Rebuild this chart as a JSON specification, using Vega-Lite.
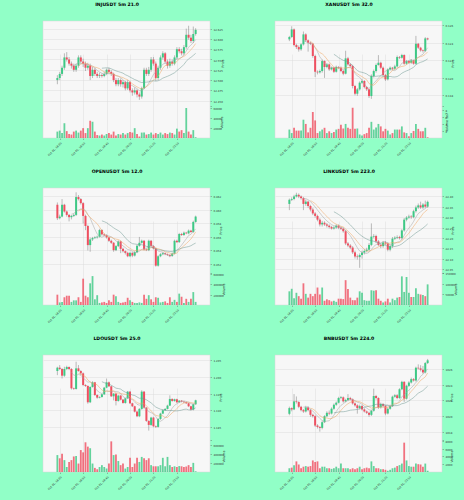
{
"$schema": "https://vega.github.io/schema/vega-lite/v6.json",
"background": "#91ffc7",
"padding": {"left": 42, "top": 1, "right": 8, "bottom": 13},
"bounds": "flush",
"columns": 2,
"spacing": {"row": 50, "column": 65},
"config": {
 "view": {"fill": "#f7f7f7", "stroke": "#d6d6d6", "strokeWidth": 0.5},
 "axis": {"labelFont": "DejaVu Sans", "labelFontSize": 2.7, "labelColor": "#333333", "titleFont": "DejaVu Sans", "titleFontSize": 3.2, "titleFontWeight": "normal", "titleColor": "#222222", "tickSize": 1.5, "tickWidth": 0.4, "tickColor": "#555555", "domain": false, "gridColor": "#dcdcdc", "gridWidth": 0.5, "labelPadding": 1.5, "titlePadding": 2, "labelFlush": false},
 "axisRight": {"titleAngle": 270},
 "title": {"font": "DejaVu Sans", "fontSize": 4.6, "fontWeight": "bold", "color": "#000000", "offset": 14.5, "dx": -9.5, "anchor": "middle"}
},
"concat": [
 {"title": "INJUSDT 5m 21.0", "data": {"name": "inj"}, "width": 167, "height": 117,
  "encoding": {"x": {"field": "i", "type": "quantitative", "scale": {"domain": [-4, 63], "nice": false, "zero": false}, "axis": {"values": [1, 11, 21, 31, 41, 51], "tickCount": 20, "labelExpr": "['Oct 01, 18:05','Oct 01, 18:55','Oct 01, 19:45','Oct 01, 20:35','Oct 01, 21:25','Oct 01, 22:15'][round((datum.value-1)/10)]", "labelAngle": 315, "labelAlign": "right", "labelBaseline": "top", "labelOverlap": false, "title": null}}},
  "layer": [
   {"layer": [
    {"mark": {"type": "rule", "color": "#7a7a7a", "strokeWidth": 0.5}, "encoding": {"y": {"field": "l", "type": "quantitative", "scale": {"domain": [12.4395, 12.6435], "range": [84, 0], "nice": false, "zero": false}, "axis": {"orient": "right", "values": [12.45, 12.475, 12.5, 12.525, 12.55, 12.575, 12.6, 12.625], "tickCount": 20, "format": ".3f", "labelOverlap": false, "title": "Price"}}, "y2": {"field": "h"}}},
    {"mark": {"type": "bar", "size": 2}, "encoding": {"y": {"field": "o", "type": "quantitative"}, "y2": {"field": "c"}, "color": {"condition": {"test": "datum.c >= datum.o", "value": "#3dc985"}, "value": "#ef4f60"}}},
    {"transform": [{"window": [{"op": "mean", "field": "c", "as": "ma"}, {"op": "count", "as": "n"}], "frame": [-6, 0], "sort": [{"field": "i"}]}, {"filter": "datum.n >= 7"}], "mark": {"type": "line", "color": "#a3a3a3", "strokeWidth": 0.5}, "encoding": {"y": {"field": "ma", "type": "quantitative"}}},
    {"transform": [{"window": [{"op": "mean", "field": "c", "as": "ma"}, {"op": "count", "as": "n"}], "frame": [-9, 0], "sort": [{"field": "i"}]}, {"filter": "datum.n >= 10"}], "mark": {"type": "line", "color": "#eea35d", "strokeWidth": 0.5}, "encoding": {"y": {"field": "ma", "type": "quantitative"}}},
    {"transform": [{"window": [{"op": "mean", "field": "c", "as": "ma"}, {"op": "count", "as": "n"}], "frame": [-19, 0], "sort": [{"field": "i"}]}, {"filter": "datum.n >= 20"}], "mark": {"type": "line", "color": "#6d9790", "strokeWidth": 0.5}, "encoding": {"y": {"field": "ma", "type": "quantitative"}}}
   ]},
   {"mark": {"type": "bar", "size": 1.8, "opacity": 0.8}, "encoding": {"y": {"field": "v", "type": "quantitative", "scale": {"domain": [0, 65000], "range": [117, 85], "nice": false}, "axis": {"orient": "right", "values": [20000, 40000, 60000, 65000], "tickCount": 20, "labelExpr": "datum.value == 65000 ? '' : format(datum.value, 'd')", "labelOverlap": false, "title": "Volume"}}, "color": {"condition": {"test": "datum.c >= datum.o", "value": "#3dc985"}, "value": "#ef4f60"}}}
  ],
  "resolve": {"scale": {"y": "independent"}, "axis": {"y": "independent"}}
 },
 {"title": "XANUSDT 5m 32.0", "data": {"name": "xan"}, "width": 167, "height": 117,
  "encoding": {"x": {"field": "i", "type": "quantitative", "scale": {"domain": [-4, 63], "nice": false, "zero": false}, "axis": {"values": [1, 11, 21, 31, 41, 51], "tickCount": 20, "labelExpr": "['Oct 01, 18:05','Oct 01, 18:55','Oct 01, 19:45','Oct 01, 20:35','Oct 01, 21:25','Oct 01, 22:15'][round((datum.value-1)/10)]", "labelAngle": 315, "labelAlign": "right", "labelBaseline": "top", "labelOverlap": false, "title": null}}},
  "layer": [
   {"layer": [
    {"mark": {"type": "rule", "color": "#7a7a7a", "strokeWidth": 0.5}, "encoding": {"y": {"field": "l", "type": "quantitative", "scale": {"domain": [0.1169, 0.1265], "range": [84, 0], "nice": false, "zero": false}, "axis": {"orient": "right", "values": [0.118, 0.12, 0.122, 0.124, 0.126], "tickCount": 20, "format": ".3f", "labelOverlap": false, "title": "Price"}}, "y2": {"field": "h"}}},
    {"mark": {"type": "bar", "size": 2}, "encoding": {"y": {"field": "o", "type": "quantitative"}, "y2": {"field": "c"}, "color": {"condition": {"test": "datum.c >= datum.o", "value": "#3dc985"}, "value": "#ef4f60"}}},
    {"transform": [{"window": [{"op": "mean", "field": "c", "as": "ma"}, {"op": "count", "as": "n"}], "frame": [-6, 0], "sort": [{"field": "i"}]}, {"filter": "datum.n >= 7"}], "mark": {"type": "line", "color": "#a3a3a3", "strokeWidth": 0.5}, "encoding": {"y": {"field": "ma", "type": "quantitative"}}},
    {"transform": [{"window": [{"op": "mean", "field": "c", "as": "ma"}, {"op": "count", "as": "n"}], "frame": [-9, 0], "sort": [{"field": "i"}]}, {"filter": "datum.n >= 10"}], "mark": {"type": "line", "color": "#eea35d", "strokeWidth": 0.5}, "encoding": {"y": {"field": "ma", "type": "quantitative"}}},
    {"transform": [{"window": [{"op": "mean", "field": "c", "as": "ma"}, {"op": "count", "as": "n"}], "frame": [-19, 0], "sort": [{"field": "i"}]}, {"filter": "datum.n >= 20"}], "mark": {"type": "line", "color": "#6d9790", "strokeWidth": 0.5}, "encoding": {"y": {"field": "ma", "type": "quantitative"}}}
   ]},
   {"mark": {"type": "bar", "size": 1.8, "opacity": 0.8}, "encoding": {"y": {"field": "v", "type": "quantitative", "scale": {"domain": [0, 91000000], "range": [117, 85], "nice": false}, "axis": {"orient": "right", "values": [20000000, 40000000, 60000000, 80000000, 91000000], "tickCount": 20, "labelExpr": "datum.value == 91000000 ? '' : format(datum.value/1e7, 'd')", "labelOverlap": false, "title": "Volume  1e7"}}, "color": {"condition": {"test": "datum.c >= datum.o", "value": "#3dc985"}, "value": "#ef4f60"}}}
  ],
  "resolve": {"scale": {"y": "independent"}, "axis": {"y": "independent"}}
 },
 {"title": "OPENUSDT 5m 12.0", "data": {"name": "open"}, "width": 167, "height": 117,
  "encoding": {"x": {"field": "i", "type": "quantitative", "scale": {"domain": [-4, 63], "nice": false, "zero": false}, "axis": {"values": [1, 11, 21, 31, 41, 51], "tickCount": 20, "labelExpr": "['Oct 01, 18:05','Oct 01, 18:55','Oct 01, 19:45','Oct 01, 20:35','Oct 01, 21:25','Oct 01, 22:15'][round((datum.value-1)/10)]", "labelAngle": 315, "labelAlign": "right", "labelBaseline": "top", "labelOverlap": false, "title": null}}},
  "layer": [
   {"layer": [
    {"mark": {"type": "rule", "color": "#7a7a7a", "strokeWidth": 0.5}, "encoding": {"y": {"field": "l", "type": "quantitative", "scale": {"domain": [0.45081, 0.46324], "range": [84, 0], "nice": false, "zero": false}, "axis": {"orient": "right", "values": [0.452, 0.454, 0.456, 0.458, 0.46, 0.462], "tickCount": 20, "format": ".3f", "labelOverlap": false, "title": "Price"}}, "y2": {"field": "h"}}},
    {"mark": {"type": "bar", "size": 2}, "encoding": {"y": {"field": "o", "type": "quantitative"}, "y2": {"field": "c"}, "color": {"condition": {"test": "datum.c >= datum.o", "value": "#3dc985"}, "value": "#ef4f60"}}},
    {"transform": [{"window": [{"op": "mean", "field": "c", "as": "ma"}, {"op": "count", "as": "n"}], "frame": [-6, 0], "sort": [{"field": "i"}]}, {"filter": "datum.n >= 7"}], "mark": {"type": "line", "color": "#a3a3a3", "strokeWidth": 0.5}, "encoding": {"y": {"field": "ma", "type": "quantitative"}}},
    {"transform": [{"window": [{"op": "mean", "field": "c", "as": "ma"}, {"op": "count", "as": "n"}], "frame": [-9, 0], "sort": [{"field": "i"}]}, {"filter": "datum.n >= 10"}], "mark": {"type": "line", "color": "#eea35d", "strokeWidth": 0.5}, "encoding": {"y": {"field": "ma", "type": "quantitative"}}},
    {"transform": [{"window": [{"op": "mean", "field": "c", "as": "ma"}, {"op": "count", "as": "n"}], "frame": [-19, 0], "sort": [{"field": "i"}]}, {"filter": "datum.n >= 20"}], "mark": {"type": "line", "color": "#6d9790", "strokeWidth": 0.5}, "encoding": {"y": {"field": "ma", "type": "quantitative"}}}
   ]},
   {"mark": {"type": "bar", "size": 1.8, "opacity": 0.8}, "encoding": {"y": {"field": "v", "type": "quantitative", "scale": {"domain": [0, 620000], "range": [117, 85], "nice": false}, "axis": {"orient": "right", "values": [200000, 400000, 600000, 620000], "tickCount": 20, "labelExpr": "datum.value == 620000 ? '' : format(datum.value, 'd')", "labelOverlap": false, "title": "Volume"}}, "color": {"condition": {"test": "datum.c >= datum.o", "value": "#3dc985"}, "value": "#ef4f60"}}}
  ],
  "resolve": {"scale": {"y": "independent"}, "axis": {"y": "independent"}}
 },
 {"title": "LINKUSDT 5m 223.0", "data": {"name": "link"}, "width": 167, "height": 117,
  "encoding": {"x": {"field": "i", "type": "quantitative", "scale": {"domain": [-4, 63], "nice": false, "zero": false}, "axis": {"values": [1, 11, 21, 31, 41, 51], "tickCount": 20, "labelExpr": "['Oct 01, 18:05','Oct 01, 18:55','Oct 01, 19:45','Oct 01, 20:35','Oct 01, 21:25','Oct 01, 22:15'][round((datum.value-1)/10)]", "labelAngle": 315, "labelAlign": "right", "labelBaseline": "top", "labelOverlap": false, "title": null}}},
  "layer": [
   {"layer": [
    {"mark": {"type": "rule", "color": "#7a7a7a", "strokeWidth": 0.5}, "encoding": {"y": {"field": "l", "type": "quantitative", "scale": {"domain": [22.035, 22.441], "range": [84, 0], "nice": false, "zero": false}, "axis": {"orient": "right", "values": [22.05, 22.1, 22.15, 22.2, 22.25, 22.3, 22.35, 22.4], "tickCount": 20, "format": ".2f", "labelOverlap": false, "title": "Price"}}, "y2": {"field": "h"}}},
    {"mark": {"type": "bar", "size": 2}, "encoding": {"y": {"field": "o", "type": "quantitative"}, "y2": {"field": "c"}, "color": {"condition": {"test": "datum.c >= datum.o", "value": "#3dc985"}, "value": "#ef4f60"}}},
    {"transform": [{"window": [{"op": "mean", "field": "c", "as": "ma"}, {"op": "count", "as": "n"}], "frame": [-6, 0], "sort": [{"field": "i"}]}, {"filter": "datum.n >= 7"}], "mark": {"type": "line", "color": "#a3a3a3", "strokeWidth": 0.5}, "encoding": {"y": {"field": "ma", "type": "quantitative"}}},
    {"transform": [{"window": [{"op": "mean", "field": "c", "as": "ma"}, {"op": "count", "as": "n"}], "frame": [-9, 0], "sort": [{"field": "i"}]}, {"filter": "datum.n >= 10"}], "mark": {"type": "line", "color": "#eea35d", "strokeWidth": 0.5}, "encoding": {"y": {"field": "ma", "type": "quantitative"}}},
    {"transform": [{"window": [{"op": "mean", "field": "c", "as": "ma"}, {"op": "count", "as": "n"}], "frame": [-19, 0], "sort": [{"field": "i"}]}, {"filter": "datum.n >= 20"}], "mark": {"type": "line", "color": "#6d9790", "strokeWidth": 0.5}, "encoding": {"y": {"field": "ma", "type": "quantitative"}}}
   ]},
   {"mark": {"type": "bar", "size": 1.8, "opacity": 0.8}, "encoding": {"y": {"field": "v", "type": "quantitative", "scale": {"domain": [0, 152000], "range": [117, 85], "nice": false}, "axis": {"orient": "right", "values": [50000, 100000, 150000, 152000], "tickCount": 20, "labelExpr": "datum.value == 152000 ? '' : format(datum.value, 'd')", "labelOverlap": false, "title": "Volume"}}, "color": {"condition": {"test": "datum.c >= datum.o", "value": "#3dc985"}, "value": "#ef4f60"}}}
  ],
  "resolve": {"scale": {"y": "independent"}, "axis": {"y": "independent"}}
 },
 {"title": "LDOUSDT 5m 25.0", "data": {"name": "ldo"}, "width": 167, "height": 117,
  "encoding": {"x": {"field": "i", "type": "quantitative", "scale": {"domain": [-4, 63], "nice": false, "zero": false}, "axis": {"values": [1, 11, 21, 31, 41, 51], "tickCount": 20, "labelExpr": "['Oct 01, 18:05','Oct 01, 18:55','Oct 01, 19:45','Oct 01, 20:35','Oct 01, 21:25','Oct 01, 22:15'][round((datum.value-1)/10)]", "labelAngle": 315, "labelAlign": "right", "labelBaseline": "top", "labelOverlap": false, "title": null}}},
  "layer": [
   {"layer": [
    {"mark": {"type": "rule", "color": "#7a7a7a", "strokeWidth": 0.5}, "encoding": {"y": {"field": "l", "type": "quantitative", "scale": {"domain": [1.1815, 1.2065], "range": [84, 0], "nice": false, "zero": false}, "axis": {"orient": "right", "values": [1.185, 1.19, 1.195, 1.2, 1.205], "tickCount": 20, "format": ".3f", "labelOverlap": false, "title": "Price"}}, "y2": {"field": "h"}}},
    {"mark": {"type": "bar", "size": 2}, "encoding": {"y": {"field": "o", "type": "quantitative"}, "y2": {"field": "c"}, "color": {"condition": {"test": "datum.c >= datum.o", "value": "#3dc985"}, "value": "#ef4f60"}}},
    {"transform": [{"window": [{"op": "mean", "field": "c", "as": "ma"}, {"op": "count", "as": "n"}], "frame": [-6, 0], "sort": [{"field": "i"}]}, {"filter": "datum.n >= 7"}], "mark": {"type": "line", "color": "#a3a3a3", "strokeWidth": 0.5}, "encoding": {"y": {"field": "ma", "type": "quantitative"}}},
    {"transform": [{"window": [{"op": "mean", "field": "c", "as": "ma"}, {"op": "count", "as": "n"}], "frame": [-9, 0], "sort": [{"field": "i"}]}, {"filter": "datum.n >= 10"}], "mark": {"type": "line", "color": "#eea35d", "strokeWidth": 0.5}, "encoding": {"y": {"field": "ma", "type": "quantitative"}}},
    {"transform": [{"window": [{"op": "mean", "field": "c", "as": "ma"}, {"op": "count", "as": "n"}], "frame": [-19, 0], "sort": [{"field": "i"}]}, {"filter": "datum.n >= 20"}], "mark": {"type": "line", "color": "#6d9790", "strokeWidth": 0.5}, "encoding": {"y": {"field": "ma", "type": "quantitative"}}}
   ]},
   {"mark": {"type": "bar", "size": 1.8, "opacity": 0.8}, "encoding": {"y": {"field": "v", "type": "quantitative", "scale": {"domain": [0, 700000], "range": [117, 85], "nice": false}, "axis": {"orient": "right", "values": [200000, 400000, 600000, 700000], "tickCount": 20, "labelExpr": "datum.value == 700000 ? '' : format(datum.value, 'd')", "labelOverlap": false, "title": "Volume"}}, "color": {"condition": {"test": "datum.c >= datum.o", "value": "#3dc985"}, "value": "#ef4f60"}}}
  ],
  "resolve": {"scale": {"y": "independent"}, "axis": {"y": "independent"}}
 },
 {"title": "BNBUSDT 5m 224.0", "data": {"name": "bnb"}, "width": 167, "height": 117,
  "encoding": {"x": {"field": "i", "type": "quantitative", "scale": {"domain": [-4, 63], "nice": false, "zero": false}, "axis": {"values": [1, 11, 21, 31, 41, 51], "tickCount": 20, "labelExpr": "['Oct 01, 18:05','Oct 01, 18:55','Oct 01, 19:45','Oct 01, 20:35','Oct 01, 21:25','Oct 01, 22:15'][round((datum.value-1)/10)]", "labelAngle": 315, "labelAlign": "right", "labelBaseline": "top", "labelOverlap": false, "title": null}}},
  "layer": [
   {"layer": [
    {"mark": {"type": "rule", "color": "#7a7a7a", "strokeWidth": 0.5}, "encoding": {"y": {"field": "l", "type": "quantitative", "scale": {"domain": [1017.06, 1027.8], "range": [84, 0], "nice": false, "zero": false}, "axis": {"orient": "right", "values": [1018, 1020, 1022, 1024, 1026], "tickCount": 20, "format": "d", "labelOverlap": false, "title": "Price"}}, "y2": {"field": "h"}}},
    {"mark": {"type": "bar", "size": 2}, "encoding": {"y": {"field": "o", "type": "quantitative"}, "y2": {"field": "c"}, "color": {"condition": {"test": "datum.c >= datum.o", "value": "#3dc985"}, "value": "#ef4f60"}}},
    {"transform": [{"window": [{"op": "mean", "field": "c", "as": "ma"}, {"op": "count", "as": "n"}], "frame": [-6, 0], "sort": [{"field": "i"}]}, {"filter": "datum.n >= 7"}], "mark": {"type": "line", "color": "#a3a3a3", "strokeWidth": 0.5}, "encoding": {"y": {"field": "ma", "type": "quantitative"}}},
    {"transform": [{"window": [{"op": "mean", "field": "c", "as": "ma"}, {"op": "count", "as": "n"}], "frame": [-9, 0], "sort": [{"field": "i"}]}, {"filter": "datum.n >= 10"}], "mark": {"type": "line", "color": "#eea35d", "strokeWidth": 0.5}, "encoding": {"y": {"field": "ma", "type": "quantitative"}}},
    {"transform": [{"window": [{"op": "mean", "field": "c", "as": "ma"}, {"op": "count", "as": "n"}], "frame": [-19, 0], "sort": [{"field": "i"}]}, {"filter": "datum.n >= 20"}], "mark": {"type": "line", "color": "#6d9790", "strokeWidth": 0.5}, "encoding": {"y": {"field": "ma", "type": "quantitative"}}}
   ]},
   {"mark": {"type": "bar", "size": 1.8, "opacity": 0.8}, "encoding": {"y": {"field": "v", "type": "quantitative", "scale": {"domain": [0, 8200], "range": [117, 85], "nice": false}, "axis": {"orient": "right", "values": [2000, 4000, 6000, 8000, 8200], "tickCount": 20, "labelExpr": "datum.value == 8200 ? '' : format(datum.value, 'd')", "labelOverlap": false, "title": "Volume"}}, "color": {"condition": {"test": "datum.c >= datum.o", "value": "#3dc985"}, "value": "#ef4f60"}}}
  ],
  "resolve": {"scale": {"y": "independent"}, "axis": {"y": "independent"}}
 }
],
"datasets": {
"inj": [
{"i":0,"o":12.500,"h":12.512,"l":12.490,"c":12.505,"v":13000},
{"i":1,"o":12.505,"h":12.520,"l":12.500,"c":12.515,"v":15000},
{"i":2,"o":12.515,"h":12.535,"l":12.510,"c":12.530,"v":10000},
{"i":3,"o":12.530,"h":12.565,"l":12.525,"c":12.555,"v":30000},
{"i":4,"o":12.555,"h":12.568,"l":12.545,"c":12.550,"v":14000},
{"i":5,"o":12.550,"h":12.556,"l":12.535,"c":12.540,"v":8000},
{"i":6,"o":12.540,"h":12.545,"l":12.528,"c":12.535,"v":7000},
{"i":7,"o":12.535,"h":12.540,"l":12.520,"c":12.525,"v":13000},
{"i":8,"o":12.525,"h":12.540,"l":12.520,"c":12.535,"v":15000},
{"i":9,"o":12.535,"h":12.560,"l":12.530,"c":12.555,"v":11000},
{"i":10,"o":12.555,"h":12.560,"l":12.540,"c":12.545,"v":15000},
{"i":11,"o":12.545,"h":12.552,"l":12.532,"c":12.540,"v":20000},
{"i":12,"o":12.540,"h":12.545,"l":12.522,"c":12.530,"v":10000},
{"i":13,"o":12.530,"h":12.542,"l":12.525,"c":12.535,"v":20000},
{"i":14,"o":12.535,"h":12.540,"l":12.500,"c":12.510,"v":35000},
{"i":15,"o":12.510,"h":12.532,"l":12.505,"c":12.525,"v":33000},
{"i":16,"o":12.525,"h":12.530,"l":12.510,"c":12.515,"v":13000},
{"i":17,"o":12.515,"h":12.520,"l":12.505,"c":12.510,"v":6000},
{"i":18,"o":12.510,"h":12.518,"l":12.505,"c":12.512,"v":5000},
{"i":19,"o":12.512,"h":12.516,"l":12.506,"c":12.510,"v":7000},
{"i":20,"o":12.510,"h":12.520,"l":12.507,"c":12.515,"v":5000},
{"i":21,"o":12.515,"h":12.528,"l":12.512,"c":12.525,"v":8000},
{"i":22,"o":12.525,"h":12.530,"l":12.516,"c":12.520,"v":10000},
{"i":23,"o":12.520,"h":12.524,"l":12.510,"c":12.515,"v":7000},
{"i":24,"o":12.515,"h":12.518,"l":12.495,"c":12.500,"v":13000},
{"i":25,"o":12.500,"h":12.505,"l":12.485,"c":12.490,"v":5000},
{"i":26,"o":12.490,"h":12.505,"l":12.485,"c":12.500,"v":8000},
{"i":27,"o":12.500,"h":12.504,"l":12.484,"c":12.490,"v":7000},
{"i":28,"o":12.490,"h":12.500,"l":12.482,"c":12.495,"v":10000},
{"i":29,"o":12.495,"h":12.498,"l":12.475,"c":12.480,"v":7000},
{"i":30,"o":12.480,"h":12.500,"l":12.476,"c":12.495,"v":10000},
{"i":31,"o":12.495,"h":12.498,"l":12.470,"c":12.475,"v":12000},
{"i":32,"o":12.475,"h":12.480,"l":12.462,"c":12.470,"v":11000},
{"i":33,"o":12.470,"h":12.482,"l":12.465,"c":12.475,"v":20000},
{"i":34,"o":12.475,"h":12.478,"l":12.458,"c":12.465,"v":8000},
{"i":35,"o":12.465,"h":12.470,"l":12.452,"c":12.460,"v":3000},
{"i":36,"o":12.460,"h":12.484,"l":12.455,"c":12.480,"v":11000},
{"i":37,"o":12.480,"h":12.530,"l":12.478,"c":12.525,"v":11000},
{"i":38,"o":12.525,"h":12.530,"l":12.510,"c":12.515,"v":7000},
{"i":39,"o":12.515,"h":12.532,"l":12.510,"c":12.525,"v":8000},
{"i":40,"o":12.525,"h":12.556,"l":12.520,"c":12.550,"v":11000},
{"i":41,"o":12.550,"h":12.556,"l":12.535,"c":12.540,"v":7000},
{"i":42,"o":12.540,"h":12.545,"l":12.498,"c":12.505,"v":10000},
{"i":43,"o":12.505,"h":12.535,"l":12.500,"c":12.530,"v":8000},
{"i":44,"o":12.530,"h":12.560,"l":12.525,"c":12.555,"v":11000},
{"i":45,"o":12.555,"h":12.570,"l":12.550,"c":12.565,"v":7000},
{"i":46,"o":12.565,"h":12.568,"l":12.540,"c":12.545,"v":10000},
{"i":47,"o":12.545,"h":12.550,"l":12.528,"c":12.535,"v":8000},
{"i":48,"o":12.535,"h":12.552,"l":12.530,"c":12.545,"v":11000},
{"i":49,"o":12.545,"h":12.550,"l":12.535,"c":12.540,"v":10000},
{"i":50,"o":12.540,"h":12.560,"l":12.536,"c":12.555,"v":7000},
{"i":51,"o":12.555,"h":12.580,"l":12.550,"c":12.575,"v":19000},
{"i":52,"o":12.575,"h":12.580,"l":12.565,"c":12.570,"v":13000},
{"i":53,"o":12.570,"h":12.576,"l":12.560,"c":12.565,"v":16000},
{"i":54,"o":12.565,"h":12.585,"l":12.560,"c":12.580,"v":10000},
{"i":55,"o":12.580,"h":12.625,"l":12.576,"c":12.610,"v":61000},
{"i":56,"o":12.610,"h":12.632,"l":12.598,"c":12.603,"v":13000},
{"i":57,"o":12.603,"h":12.610,"l":12.590,"c":12.595,"v":7000},
{"i":58,"o":12.595,"h":12.630,"l":12.590,"c":12.612,"v":16000},
{"i":59,"o":12.612,"h":12.626,"l":12.608,"c":12.622,"v":1500}
],
"xan": [
{"i":0,"o":0.12440,"h":0.12480,"l":0.12420,"c":0.12467,"v":2.4e7},
{"i":1,"o":0.12467,"h":0.12590,"l":0.12455,"c":0.12554,"v":1.4e7},
{"i":2,"o":0.12554,"h":0.12565,"l":0.12360,"c":0.12375,"v":2.9e7},
{"i":3,"o":0.12375,"h":0.12390,"l":0.12330,"c":0.12352,"v":2.1e7},
{"i":4,"o":0.12352,"h":0.12370,"l":0.12300,"c":0.12326,"v":2.1e7},
{"i":5,"o":0.12326,"h":0.12395,"l":0.12310,"c":0.12383,"v":2.1e7},
{"i":6,"o":0.12383,"h":0.12530,"l":0.12370,"c":0.12497,"v":5.2e7},
{"i":7,"o":0.12497,"h":0.12510,"l":0.12410,"c":0.12429,"v":4.0e7},
{"i":8,"o":0.12429,"h":0.12440,"l":0.12300,"c":0.12402,"v":1.6e7},
{"i":9,"o":0.12402,"h":0.12415,"l":0.12375,"c":0.12390,"v":2.9e7},
{"i":10,"o":0.12390,"h":0.12400,"l":0.12230,"c":0.12250,"v":7.4e7},
{"i":11,"o":0.12250,"h":0.12265,"l":0.12010,"c":0.12070,"v":5.0e7},
{"i":12,"o":0.12070,"h":0.12085,"l":0.12040,"c":0.12063,"v":1.4e7},
{"i":13,"o":0.12063,"h":0.12095,"l":0.12050,"c":0.12078,"v":1.9e7},
{"i":14,"o":0.12078,"h":0.12210,"l":0.12060,"c":0.12192,"v":2.4e7},
{"i":15,"o":0.12192,"h":0.12200,"l":0.12000,"c":0.12124,"v":2.9e7},
{"i":16,"o":0.12124,"h":0.12170,"l":0.12110,"c":0.12154,"v":1.4e7},
{"i":17,"o":0.12154,"h":0.12165,"l":0.12080,"c":0.12097,"v":1.9e7},
{"i":18,"o":0.12097,"h":0.12130,"l":0.12085,"c":0.12116,"v":1.4e7},
{"i":19,"o":0.12116,"h":0.12125,"l":0.12055,"c":0.12070,"v":1.7e7},
{"i":20,"o":0.12070,"h":0.12140,"l":0.12060,"c":0.12124,"v":2.4e7},
{"i":21,"o":0.12124,"h":0.12135,"l":0.12100,"c":0.12116,"v":2.6e7},
{"i":22,"o":0.12116,"h":0.12130,"l":0.12065,"c":0.12078,"v":3.8e7},
{"i":23,"o":0.12078,"h":0.12090,"l":0.12030,"c":0.12048,"v":2.7e7},
{"i":24,"o":0.12048,"h":0.12310,"l":0.12040,"c":0.12223,"v":4.0e7},
{"i":25,"o":0.12223,"h":0.12240,"l":0.12140,"c":0.12154,"v":2.9e7},
{"i":26,"o":0.12154,"h":0.12165,"l":0.12120,"c":0.12135,"v":2.6e7},
{"i":27,"o":0.12135,"h":0.12150,"l":0.11880,"c":0.11907,"v":8.6e7},
{"i":28,"o":0.11907,"h":0.11920,"l":0.11800,"c":0.11819,"v":2.6e7},
{"i":29,"o":0.11819,"h":0.11885,"l":0.11795,"c":0.11869,"v":2.7e7},
{"i":30,"o":0.11869,"h":0.11960,"l":0.11855,"c":0.11945,"v":1.0e7},
{"i":31,"o":0.11945,"h":0.11985,"l":0.11930,"c":0.11964,"v":0.7e7},
{"i":32,"o":0.11964,"h":0.11975,"l":0.11880,"c":0.11895,"v":1.1e7},
{"i":33,"o":0.11895,"h":0.11905,"l":0.11850,"c":0.11869,"v":1.4e7},
{"i":34,"o":0.11869,"h":0.11880,"l":0.11770,"c":0.11792,"v":2.9e7},
{"i":35,"o":0.11792,"h":0.12040,"l":0.11760,"c":0.12021,"v":4.6e7},
{"i":36,"o":0.12021,"h":0.12095,"l":0.12005,"c":0.12078,"v":2.4e7},
{"i":37,"o":0.12078,"h":0.12165,"l":0.12060,"c":0.12147,"v":3.0e7},
{"i":38,"o":0.12147,"h":0.12260,"l":0.12140,"c":0.12173,"v":4.0e7},
{"i":39,"o":0.12173,"h":0.12185,"l":0.12100,"c":0.12116,"v":3.3e7},
{"i":40,"o":0.12116,"h":0.12130,"l":0.12015,"c":0.12032,"v":1.9e7},
{"i":41,"o":0.12032,"h":0.12045,"l":0.11965,"c":0.11983,"v":2.6e7},
{"i":42,"o":0.11983,"h":0.12110,"l":0.11970,"c":0.12097,"v":2.1e7},
{"i":43,"o":0.12097,"h":0.12130,"l":0.12085,"c":0.12116,"v":1.0e7},
{"i":44,"o":0.12116,"h":0.12125,"l":0.12090,"c":0.12105,"v":1.4e7},
{"i":45,"o":0.12105,"h":0.12150,"l":0.12095,"c":0.12131,"v":2.4e7},
{"i":46,"o":0.12131,"h":0.12255,"l":0.12120,"c":0.12238,"v":2.4e7},
{"i":47,"o":0.12238,"h":0.12250,"l":0.12215,"c":0.12230,"v":2.4e7},
{"i":48,"o":0.12230,"h":0.12275,"l":0.12220,"c":0.12261,"v":3.3e7},
{"i":49,"o":0.12261,"h":0.12270,"l":0.12150,"c":0.12162,"v":1.6e7},
{"i":50,"o":0.12162,"h":0.12205,"l":0.12150,"c":0.12192,"v":1.4e7},
{"i":51,"o":0.12192,"h":0.12200,"l":0.12160,"c":0.12173,"v":0.5e7},
{"i":52,"o":0.12173,"h":0.12215,"l":0.12160,"c":0.12200,"v":1.4e7},
{"i":53,"o":0.12200,"h":0.12210,"l":0.12150,"c":0.12162,"v":2.0e7},
{"i":54,"o":0.12162,"h":0.12480,"l":0.12150,"c":0.12390,"v":4.0e7},
{"i":55,"o":0.12390,"h":0.12400,"l":0.12330,"c":0.12345,"v":2.6e7},
{"i":56,"o":0.12345,"h":0.12355,"l":0.12300,"c":0.12314,"v":1.9e7},
{"i":57,"o":0.12314,"h":0.12325,"l":0.12290,"c":0.12307,"v":1.9e7},
{"i":58,"o":0.12307,"h":0.12465,"l":0.12295,"c":0.12451,"v":2.9e7},
{"i":59,"o":0.12451,"h":0.12460,"l":0.12430,"c":0.12440,"v":0.2e7}
],
"open": [
{"i":0,"o":0.46076,"h":0.46110,"l":0.45850,"c":0.45877,"v":200000},
{"i":1,"o":0.45877,"h":0.45930,"l":0.45860,"c":0.45901,"v":50000},
{"i":2,"o":0.45901,"h":0.46160,"l":0.45890,"c":0.46076,"v":60000},
{"i":3,"o":0.46076,"h":0.46090,"l":0.45960,"c":0.45976,"v":150000},
{"i":4,"o":0.45976,"h":0.45990,"l":0.45900,"c":0.45926,"v":180000},
{"i":5,"o":0.45926,"h":0.45940,"l":0.45830,"c":0.45892,"v":180000},
{"i":6,"o":0.45892,"h":0.45925,"l":0.45860,"c":0.45911,"v":60000},
{"i":7,"o":0.45911,"h":0.45945,"l":0.45895,"c":0.45926,"v":90000},
{"i":8,"o":0.45926,"h":0.46260,"l":0.45910,"c":0.46190,"v":90000},
{"i":9,"o":0.46190,"h":0.46220,"l":0.46140,"c":0.46160,"v":150000},
{"i":10,"o":0.46160,"h":0.46175,"l":0.46080,"c":0.46100,"v":60000},
{"i":11,"o":0.46100,"h":0.46115,"l":0.45800,"c":0.45911,"v":510000},
{"i":12,"o":0.45911,"h":0.45930,"l":0.45700,"c":0.45762,"v":180000},
{"i":13,"o":0.45762,"h":0.45780,"l":0.45400,"c":0.45479,"v":150000},
{"i":14,"o":0.45479,"h":0.45590,"l":0.45380,"c":0.45563,"v":420000},
{"i":15,"o":0.45563,"h":0.45600,"l":0.45540,"c":0.45583,"v":560000},
{"i":16,"o":0.45583,"h":0.45610,"l":0.45570,"c":0.45593,"v":110000},
{"i":17,"o":0.45593,"h":0.45620,"l":0.45575,"c":0.45603,"v":190000},
{"i":18,"o":0.45603,"h":0.45720,"l":0.45590,"c":0.45702,"v":40000},
{"i":19,"o":0.45702,"h":0.45715,"l":0.45620,"c":0.45638,"v":50000},
{"i":20,"o":0.45638,"h":0.45650,"l":0.45610,"c":0.45623,"v":60000},
{"i":21,"o":0.45623,"h":0.45640,"l":0.45575,"c":0.45593,"v":40000},
{"i":22,"o":0.45593,"h":0.45605,"l":0.45525,"c":0.45543,"v":90000},
{"i":23,"o":0.45543,"h":0.45560,"l":0.45495,"c":0.45513,"v":60000},
{"i":24,"o":0.45513,"h":0.45525,"l":0.45380,"c":0.45404,"v":200000},
{"i":25,"o":0.45404,"h":0.45480,"l":0.45390,"c":0.45464,"v":170000},
{"i":26,"o":0.45464,"h":0.45550,"l":0.45450,"c":0.45533,"v":60000},
{"i":27,"o":0.45533,"h":0.45545,"l":0.45360,"c":0.45424,"v":40000},
{"i":28,"o":0.45424,"h":0.45440,"l":0.45370,"c":0.45389,"v":50000},
{"i":29,"o":0.45389,"h":0.45400,"l":0.45340,"c":0.45364,"v":60000},
{"i":30,"o":0.45364,"h":0.45380,"l":0.45300,"c":0.45314,"v":140000},
{"i":31,"o":0.45314,"h":0.45380,"l":0.45300,"c":0.45364,"v":90000},
{"i":32,"o":0.45364,"h":0.45375,"l":0.45300,"c":0.45324,"v":60000},
{"i":33,"o":0.45324,"h":0.45390,"l":0.45310,"c":0.45374,"v":40000},
{"i":34,"o":0.45374,"h":0.45485,"l":0.45360,"c":0.45469,"v":40000},
{"i":35,"o":0.45469,"h":0.45600,"l":0.45455,"c":0.45513,"v":50000},
{"i":36,"o":0.45513,"h":0.45560,"l":0.45500,"c":0.45543,"v":40000},
{"i":37,"o":0.45543,"h":0.45555,"l":0.45400,"c":0.45414,"v":200000},
{"i":38,"o":0.45414,"h":0.45430,"l":0.45390,"c":0.45404,"v":120000},
{"i":39,"o":0.45404,"h":0.45560,"l":0.45390,"c":0.45543,"v":190000},
{"i":40,"o":0.45543,"h":0.45555,"l":0.45450,"c":0.45464,"v":110000},
{"i":41,"o":0.45464,"h":0.45475,"l":0.45415,"c":0.45429,"v":60000},
{"i":42,"o":0.45429,"h":0.45440,"l":0.45160,"c":0.45175,"v":150000},
{"i":43,"o":0.45175,"h":0.45330,"l":0.45160,"c":0.45314,"v":140000},
{"i":44,"o":0.45314,"h":0.45360,"l":0.45300,"c":0.45344,"v":50000},
{"i":45,"o":0.45344,"h":0.45375,"l":0.45330,"c":0.45359,"v":60000},
{"i":46,"o":0.45359,"h":0.45370,"l":0.45330,"c":0.45344,"v":70000},
{"i":47,"o":0.45344,"h":0.45355,"l":0.45320,"c":0.45334,"v":40000},
{"i":48,"o":0.45334,"h":0.45345,"l":0.45300,"c":0.45319,"v":150000},
{"i":49,"o":0.45319,"h":0.45370,"l":0.45305,"c":0.45354,"v":60000},
{"i":50,"o":0.45354,"h":0.45560,"l":0.45340,"c":0.45543,"v":100000},
{"i":51,"o":0.45543,"h":0.45560,"l":0.45510,"c":0.45523,"v":60000},
{"i":52,"o":0.45523,"h":0.45660,"l":0.45510,"c":0.45643,"v":220000},
{"i":53,"o":0.45643,"h":0.45660,"l":0.45615,"c":0.45628,"v":160000},
{"i":54,"o":0.45628,"h":0.45680,"l":0.45615,"c":0.45663,"v":40000},
{"i":55,"o":0.45663,"h":0.45675,"l":0.45640,"c":0.45653,"v":120000},
{"i":56,"o":0.45653,"h":0.45710,"l":0.45640,"c":0.45693,"v":60000},
{"i":57,"o":0.45693,"h":0.45705,"l":0.45660,"c":0.45673,"v":120000},
{"i":58,"o":0.45673,"h":0.45840,"l":0.45660,"c":0.45822,"v":250000},
{"i":59,"o":0.45822,"h":0.45915,"l":0.45810,"c":0.45901,"v":60000}
],
"link": [
{"i":0,"o":22.364,"h":22.390,"l":22.334,"c":22.384,"v":65000},
{"i":1,"o":22.384,"h":22.396,"l":22.378,"c":22.388,"v":77000},
{"i":2,"o":22.388,"h":22.408,"l":22.382,"c":22.400,"v":32000},
{"i":3,"o":22.400,"h":22.418,"l":22.395,"c":22.408,"v":58000},
{"i":4,"o":22.408,"h":22.415,"l":22.392,"c":22.400,"v":42000},
{"i":5,"o":22.400,"h":22.405,"l":22.385,"c":22.392,"v":30000},
{"i":6,"o":22.392,"h":22.398,"l":22.334,"c":22.364,"v":103000},
{"i":7,"o":22.364,"h":22.385,"l":22.355,"c":22.375,"v":53000},
{"i":8,"o":22.375,"h":22.380,"l":22.345,"c":22.354,"v":35000},
{"i":9,"o":22.354,"h":22.360,"l":22.328,"c":22.337,"v":53000},
{"i":10,"o":22.337,"h":22.345,"l":22.310,"c":22.318,"v":42000},
{"i":11,"o":22.318,"h":22.325,"l":22.298,"c":22.306,"v":53000},
{"i":12,"o":22.306,"h":22.312,"l":22.280,"c":22.288,"v":83000},
{"i":13,"o":22.288,"h":22.295,"l":22.255,"c":22.265,"v":50000},
{"i":14,"o":22.265,"h":22.282,"l":22.255,"c":22.273,"v":83000},
{"i":15,"o":22.273,"h":22.280,"l":22.258,"c":22.265,"v":20000},
{"i":16,"o":22.265,"h":22.272,"l":22.250,"c":22.259,"v":27000},
{"i":17,"o":22.259,"h":22.265,"l":22.245,"c":22.252,"v":23000},
{"i":18,"o":22.252,"h":22.258,"l":22.240,"c":22.245,"v":17000},
{"i":19,"o":22.245,"h":22.256,"l":22.240,"c":22.250,"v":20000},
{"i":20,"o":22.250,"h":22.265,"l":22.244,"c":22.259,"v":15000},
{"i":21,"o":22.259,"h":22.265,"l":22.242,"c":22.249,"v":30000},
{"i":22,"o":22.249,"h":22.255,"l":22.238,"c":22.244,"v":30000},
{"i":23,"o":22.244,"h":22.250,"l":22.225,"c":22.232,"v":28000},
{"i":24,"o":22.232,"h":22.238,"l":22.165,"c":22.173,"v":118000},
{"i":25,"o":22.173,"h":22.180,"l":22.155,"c":22.163,"v":76000},
{"i":26,"o":22.163,"h":22.170,"l":22.145,"c":22.153,"v":35000},
{"i":27,"o":22.153,"h":22.160,"l":22.122,"c":22.130,"v":23000},
{"i":28,"o":22.130,"h":22.138,"l":22.100,"c":22.110,"v":23000},
{"i":29,"o":22.110,"h":22.120,"l":22.095,"c":22.107,"v":35000},
{"i":30,"o":22.107,"h":22.125,"l":22.055,"c":22.117,"v":65000},
{"i":31,"o":22.117,"h":22.138,"l":22.100,"c":22.129,"v":58000},
{"i":32,"o":22.129,"h":22.145,"l":22.120,"c":22.137,"v":23000},
{"i":33,"o":22.137,"h":22.152,"l":22.130,"c":22.143,"v":20000},
{"i":34,"o":22.143,"h":22.175,"l":22.135,"c":22.166,"v":20000},
{"i":35,"o":22.166,"h":22.270,"l":22.160,"c":22.206,"v":70000},
{"i":36,"o":22.206,"h":22.218,"l":22.198,"c":22.209,"v":68000},
{"i":37,"o":22.209,"h":22.215,"l":22.175,"c":22.183,"v":70000},
{"i":38,"o":22.183,"h":22.190,"l":22.160,"c":22.166,"v":30000},
{"i":39,"o":22.166,"h":22.172,"l":22.150,"c":22.160,"v":20000},
{"i":40,"o":22.160,"h":22.185,"l":22.152,"c":22.178,"v":12000},
{"i":41,"o":22.178,"h":22.185,"l":22.165,"c":22.173,"v":17000},
{"i":42,"o":22.173,"h":22.180,"l":22.135,"c":22.143,"v":30000},
{"i":43,"o":22.143,"h":22.168,"l":22.135,"c":22.160,"v":12000},
{"i":44,"o":22.160,"h":22.204,"l":22.152,"c":22.196,"v":30000},
{"i":45,"o":22.196,"h":22.208,"l":22.190,"c":22.201,"v":23000},
{"i":46,"o":22.201,"h":22.212,"l":22.195,"c":22.204,"v":35000},
{"i":47,"o":22.204,"h":22.210,"l":22.192,"c":22.199,"v":38000},
{"i":48,"o":22.199,"h":22.242,"l":22.192,"c":22.236,"v":136000},
{"i":49,"o":22.236,"h":22.296,"l":22.230,"c":22.288,"v":62000},
{"i":50,"o":22.288,"h":22.305,"l":22.280,"c":22.298,"v":133000},
{"i":51,"o":22.298,"h":22.312,"l":22.292,"c":22.303,"v":58000},
{"i":52,"o":22.303,"h":22.310,"l":22.292,"c":22.300,"v":38000},
{"i":53,"o":22.300,"h":22.336,"l":22.295,"c":22.329,"v":38000},
{"i":54,"o":22.329,"h":22.356,"l":22.322,"c":22.347,"v":80000},
{"i":55,"o":22.347,"h":22.366,"l":22.340,"c":22.357,"v":53000},
{"i":56,"o":22.357,"h":22.375,"l":22.340,"c":22.347,"v":50000},
{"i":57,"o":22.347,"h":22.368,"l":22.340,"c":22.361,"v":47000},
{"i":58,"o":22.361,"h":22.380,"l":22.345,"c":22.351,"v":42000},
{"i":59,"o":22.351,"h":22.380,"l":22.345,"c":22.374,"v":98000}
],
"ldo": [
{"i":0,"o":1.20173,"h":1.20300,"l":1.20050,"c":1.20272,"v":370000},
{"i":1,"o":1.20272,"h":1.20350,"l":1.20200,"c":1.20233,"v":300000},
{"i":2,"o":1.20233,"h":1.20260,"l":1.19950,"c":1.20035,"v":400000},
{"i":3,"o":1.20035,"h":1.20300,"l":1.20000,"c":1.20233,"v":260000},
{"i":4,"o":1.20233,"h":1.20330,"l":1.20200,"c":1.20292,"v":110000},
{"i":5,"o":1.20292,"h":1.20310,"l":1.20200,"c":1.20233,"v":220000},
{"i":6,"o":1.20233,"h":1.20260,"l":1.19620,"c":1.19658,"v":260000},
{"i":7,"o":1.19658,"h":1.19680,"l":1.19610,"c":1.19639,"v":340000},
{"i":8,"o":1.19639,"h":1.20450,"l":1.19620,"c":1.20252,"v":350000},
{"i":9,"o":1.20252,"h":1.20350,"l":1.20150,"c":1.20173,"v":185000},
{"i":10,"o":1.20173,"h":1.20200,"l":1.20050,"c":1.20104,"v":480000},
{"i":11,"o":1.20104,"h":1.20130,"l":1.19720,"c":1.19757,"v":430000},
{"i":12,"o":1.19757,"h":1.19780,"l":1.19700,"c":1.19728,"v":650000},
{"i":13,"o":1.19728,"h":1.19750,"l":1.19200,"c":1.19243,"v":555000},
{"i":14,"o":1.19243,"h":1.19720,"l":1.19220,"c":1.19698,"v":520000},
{"i":15,"o":1.19698,"h":1.19870,"l":1.19680,"c":1.19837,"v":185000},
{"i":16,"o":1.19837,"h":1.19850,"l":1.19430,"c":1.19460,"v":90000},
{"i":17,"o":1.19460,"h":1.19480,"l":1.19350,"c":1.19381,"v":60000},
{"i":18,"o":1.19381,"h":1.19420,"l":1.19360,"c":1.19401,"v":110000},
{"i":19,"o":1.19401,"h":1.19500,"l":1.19380,"c":1.19480,"v":150000},
{"i":20,"o":1.19480,"h":1.19700,"l":1.19460,"c":1.19678,"v":110000},
{"i":21,"o":1.19678,"h":1.19950,"l":1.19660,"c":1.19837,"v":75000},
{"i":22,"o":1.19837,"h":1.19860,"l":1.19700,"c":1.19718,"v":185000},
{"i":23,"o":1.19718,"h":1.19740,"l":1.19400,"c":1.19421,"v":670000},
{"i":24,"o":1.19421,"h":1.19520,"l":1.19300,"c":1.19500,"v":370000},
{"i":25,"o":1.19500,"h":1.19520,"l":1.19150,"c":1.19282,"v":385000},
{"i":26,"o":1.19282,"h":1.19460,"l":1.19260,"c":1.19441,"v":240000},
{"i":27,"o":1.19441,"h":1.19460,"l":1.19300,"c":1.19322,"v":150000},
{"i":28,"o":1.19322,"h":1.19340,"l":1.19200,"c":1.19223,"v":185000},
{"i":29,"o":1.19223,"h":1.19380,"l":1.19200,"c":1.19361,"v":75000},
{"i":30,"o":1.19361,"h":1.19580,"l":1.19340,"c":1.19559,"v":110000},
{"i":31,"o":1.19559,"h":1.19580,"l":1.19190,"c":1.19213,"v":310000},
{"i":32,"o":1.19213,"h":1.19230,"l":1.19100,"c":1.19124,"v":110000},
{"i":33,"o":1.19124,"h":1.19140,"l":1.18940,"c":1.18965,"v":185000},
{"i":34,"o":1.18965,"h":1.18990,"l":1.18800,"c":1.18827,"v":310000},
{"i":35,"o":1.18827,"h":1.19070,"l":1.18800,"c":1.19045,"v":220000},
{"i":36,"o":1.19045,"h":1.19600,"l":1.19020,"c":1.19559,"v":330000},
{"i":37,"o":1.19559,"h":1.19580,"l":1.19050,"c":1.19084,"v":300000},
{"i":38,"o":1.19084,"h":1.19100,"l":1.18660,"c":1.18688,"v":260000},
{"i":39,"o":1.18688,"h":1.18710,"l":1.18400,"c":1.18569,"v":300000},
{"i":40,"o":1.18569,"h":1.18810,"l":1.18540,"c":1.18787,"v":150000},
{"i":41,"o":1.18787,"h":1.18810,"l":1.18500,"c":1.18530,"v":125000},
{"i":42,"o":1.18530,"h":1.18550,"l":1.18480,"c":1.18510,"v":125000},
{"i":43,"o":1.18510,"h":1.18770,"l":1.18490,"c":1.18748,"v":125000},
{"i":44,"o":1.18748,"h":1.18930,"l":1.18720,"c":1.18906,"v":150000},
{"i":45,"o":1.18906,"h":1.19030,"l":1.18890,"c":1.19005,"v":310000},
{"i":46,"o":1.19005,"h":1.19070,"l":1.18990,"c":1.19045,"v":125000},
{"i":47,"o":1.19045,"h":1.19170,"l":1.19030,"c":1.19144,"v":330000},
{"i":48,"o":1.19144,"h":1.19450,"l":1.19130,"c":1.19342,"v":150000},
{"i":49,"o":1.19342,"h":1.19360,"l":1.19260,"c":1.19282,"v":110000},
{"i":50,"o":1.19282,"h":1.19350,"l":1.19260,"c":1.19332,"v":125000},
{"i":51,"o":1.19332,"h":1.19350,"l":1.19220,"c":1.19243,"v":110000},
{"i":52,"o":1.19243,"h":1.19310,"l":1.19230,"c":1.19292,"v":130000},
{"i":53,"o":1.19292,"h":1.19310,"l":1.19240,"c":1.19262,"v":125000},
{"i":54,"o":1.19262,"h":1.19280,"l":1.19220,"c":1.19243,"v":110000},
{"i":55,"o":1.19243,"h":1.19260,"l":1.19190,"c":1.19213,"v":120000},
{"i":56,"o":1.19213,"h":1.19230,"l":1.19100,"c":1.19124,"v":150000},
{"i":57,"o":1.19124,"h":1.19140,"l":1.19000,"c":1.19025,"v":110000},
{"i":58,"o":1.19025,"h":1.19200,"l":1.19000,"c":1.19183,"v":200000},
{"i":59,"o":1.19183,"h":1.19320,"l":1.19170,"c":1.19302,"v":15000}
],
"bnb": [
{"i":0,"o":1020.28,"h":1021.20,"l":1020.10,"c":1021.01,"v":960},
{"i":1,"o":1021.01,"h":1021.10,"l":1020.60,"c":1020.84,"v":1120},
{"i":2,"o":1020.84,"h":1022.80,"l":1020.75,"c":1021.87,"v":1760},
{"i":3,"o":1021.87,"h":1022.50,"l":1021.60,"c":1021.79,"v":2720},
{"i":4,"o":1021.79,"h":1021.90,"l":1021.00,"c":1021.18,"v":1920},
{"i":5,"o":1021.18,"h":1021.30,"l":1020.60,"c":1020.75,"v":960},
{"i":6,"o":1020.75,"h":1020.90,"l":1020.40,"c":1020.58,"v":1360},
{"i":7,"o":1020.58,"h":1021.30,"l":1020.45,"c":1021.10,"v":1520},
{"i":8,"o":1021.10,"h":1021.25,"l":1020.60,"c":1020.75,"v":1360},
{"i":9,"o":1020.75,"h":1020.90,"l":1019.90,"c":1020.15,"v":1520},
{"i":10,"o":1020.15,"h":1020.30,"l":1019.80,"c":1019.98,"v":2960},
{"i":11,"o":1019.98,"h":1020.10,"l":1018.60,"c":1018.78,"v":2560},
{"i":12,"o":1018.78,"h":1018.95,"l":1018.40,"c":1018.60,"v":2720},
{"i":13,"o":1018.60,"h":1018.70,"l":1018.00,"c":1018.48,"v":960},
{"i":14,"o":1018.48,"h":1019.40,"l":1018.30,"c":1019.21,"v":1360},
{"i":15,"o":1019.21,"h":1020.10,"l":1019.10,"c":1019.98,"v":1360},
{"i":16,"o":1019.98,"h":1020.60,"l":1019.85,"c":1020.41,"v":960},
{"i":17,"o":1020.41,"h":1020.70,"l":1020.10,"c":1020.32,"v":960},
{"i":18,"o":1020.32,"h":1021.10,"l":1020.20,"c":1020.93,"v":800},
{"i":19,"o":1020.93,"h":1021.60,"l":1020.80,"c":1021.44,"v":960},
{"i":20,"o":1021.44,"h":1021.85,"l":1021.30,"c":1021.70,"v":1360},
{"i":21,"o":1021.70,"h":1022.45,"l":1021.60,"c":1022.30,"v":960},
{"i":22,"o":1022.30,"h":1022.55,"l":1022.15,"c":1022.39,"v":2160},
{"i":23,"o":1022.39,"h":1022.50,"l":1021.70,"c":1021.87,"v":960},
{"i":24,"o":1021.87,"h":1022.20,"l":1021.75,"c":1022.04,"v":960},
{"i":25,"o":1022.04,"h":1022.80,"l":1021.90,"c":1022.30,"v":960},
{"i":26,"o":1022.30,"h":1022.45,"l":1022.00,"c":1022.13,"v":720},
{"i":27,"o":1022.13,"h":1022.25,"l":1021.45,"c":1021.61,"v":960},
{"i":28,"o":1021.61,"h":1021.75,"l":1021.20,"c":1021.36,"v":720},
{"i":29,"o":1021.36,"h":1021.50,"l":1020.30,"c":1021.01,"v":960},
{"i":30,"o":1021.01,"h":1021.45,"l":1020.85,"c":1021.27,"v":1360},
{"i":31,"o":1021.27,"h":1021.40,"l":1020.70,"c":1020.84,"v":720},
{"i":32,"o":1020.84,"h":1021.00,"l":1020.45,"c":1020.58,"v":960},
{"i":33,"o":1020.58,"h":1020.70,"l":1020.25,"c":1020.41,"v":1120},
{"i":34,"o":1020.41,"h":1020.55,"l":1019.90,"c":1020.15,"v":960},
{"i":35,"o":1020.15,"h":1020.80,"l":1020.00,"c":1020.67,"v":2720},
{"i":36,"o":1020.67,"h":1023.50,"l":1020.55,"c":1022.56,"v":1520},
{"i":37,"o":1022.56,"h":1022.70,"l":1022.10,"c":1022.30,"v":960},
{"i":38,"o":1022.30,"h":1022.40,"l":1020.90,"c":1021.10,"v":960},
{"i":39,"o":1021.10,"h":1021.70,"l":1020.95,"c":1021.53,"v":720},
{"i":40,"o":1021.53,"h":1021.65,"l":1021.10,"c":1021.27,"v":720},
{"i":41,"o":1021.27,"h":1021.40,"l":1020.10,"c":1020.32,"v":560},
{"i":42,"o":1020.32,"h":1021.10,"l":1020.20,"c":1020.93,"v":320},
{"i":43,"o":1020.93,"h":1021.45,"l":1020.80,"c":1021.27,"v":560},
{"i":44,"o":1021.27,"h":1022.60,"l":1021.15,"c":1022.47,"v":960},
{"i":45,"o":1022.47,"h":1022.80,"l":1022.35,"c":1022.65,"v":1120},
{"i":46,"o":1022.65,"h":1022.80,"l":1022.15,"c":1022.30,"v":1520},
{"i":47,"o":1022.30,"h":1023.55,"l":1022.20,"c":1023.42,"v":1760},
{"i":48,"o":1023.42,"h":1024.50,"l":1023.30,"c":1024.37,"v":2160},
{"i":49,"o":1024.37,"h":1024.45,"l":1021.80,"c":1022.22,"v":7520},
{"i":50,"o":1022.22,"h":1024.00,"l":1022.10,"c":1023.85,"v":2960},
{"i":51,"o":1023.85,"h":1024.45,"l":1023.70,"c":1024.28,"v":1520},
{"i":52,"o":1024.28,"h":1024.90,"l":1024.15,"c":1024.71,"v":1360},
{"i":53,"o":1024.71,"h":1024.85,"l":1024.40,"c":1024.54,"v":1360},
{"i":54,"o":1024.54,"h":1026.30,"l":1024.40,"c":1026.17,"v":2160},
{"i":55,"o":1026.17,"h":1026.60,"l":1025.95,"c":1026.09,"v":2000},
{"i":56,"o":1026.09,"h":1026.50,"l":1025.70,"c":1025.91,"v":1920},
{"i":57,"o":1025.91,"h":1026.40,"l":1025.40,"c":1025.57,"v":1360},
{"i":58,"o":1025.57,"h":1026.90,"l":1025.45,"c":1026.77,"v":2160},
{"i":59,"o":1026.77,"h":1027.30,"l":1026.65,"c":1027.12,"v":320}
]
}
}
